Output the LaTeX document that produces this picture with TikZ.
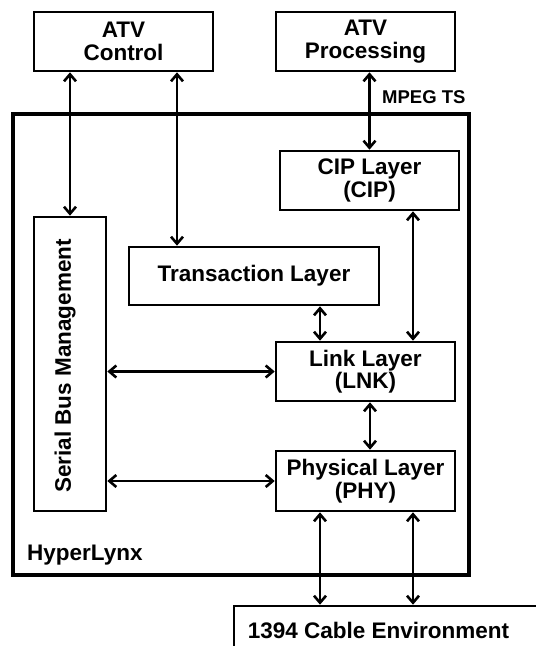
\documentclass[tikz,border=0pt]{standalone}
\usepackage{fontspec}
\setmainfont{Liberation Sans}
\usetikzlibrary{arrows.meta}
\begin{document}
\begin{tikzpicture}[x=1pt,y=-1pt,
  txt/.style={font=\fontsize{22.5}{22.5}\selectfont\bfseries, align=center, inner sep=0pt},
  box/.style={txt, draw, line width=2.6pt},
  arr/.style={line width=2.6pt, {Straight Barb[length=7pt,width=12pt]}-{Straight Barb[length=7pt,width=12pt]}}]
\useasboundingbox (0,0) rectangle (536,646);
\node[box, minimum width=456pt, minimum height=461pt, line width=4pt] (outer) at (241,344.5) {};
\node[box, minimum width=179pt, minimum height=59pt] (atvc) at (123.5,41.5) {ATV\\Control};
\node[box, minimum width=179pt, minimum height=59pt] (atvp) at (365.5,41.5) {ATV\\Processing};
\node[box, minimum width=179pt, minimum height=59pt] (cip) at (369.5,180.5) {CIP Layer\\(CIP)};
\node[box, minimum width=72pt, minimum height=294pt] (sbm) at (70,364) {};
\node[txt, rotate=90] (sbmtext) at (65,366) {Serial Bus Management};
\node[box, minimum width=250pt, minimum height=58pt] (tl) at (254,276) {Transaction Layer};
\node[box, minimum width=179pt, minimum height=59pt] (lnk) at (365.5,371.5) {Link Layer\\(LNK)};
\node[box, minimum width=179pt, minimum height=60pt] (phy) at (365.5,481) {Physical Layer\\(PHY)};
\node[box, minimum width=336pt, minimum height=84pt] (cable) at (402,648) {};
\node[txt, anchor=base] (cabletext) at (378.5,638) {1394 Cable Environment};
\node[txt, anchor=base west] (hl) at (27,560) {HyperLynx};
\node[txt, anchor=base west, font=\fontsize{18.5}{20}\selectfont\bfseries] (mpeg) at (382,103) {MPEG TS};
% connectors
\draw[arr] (atvc.south -| sbm.north) -- (sbm.north);
\draw[arr] ([xshift=53.5pt]atvc.south) -- ([xshift=53.5pt]atvc.south |- tl.north);
\draw[arr] (atvp.south -| cip.north) -- (cip.north);
\draw[arr] ([xshift=43.5pt]cip.south) -- ([xshift=43.5pt]cip.south |- lnk.north);
\draw[arr] ([xshift=66pt]tl.south) -- ([xshift=66pt]tl.south |- lnk.north);
\draw[arr] (sbm.east |- lnk.west) -- (lnk.west);
\draw[arr] (sbm.east |- phy.west) -- (phy.west);
\draw[arr] ([xshift=4.5pt]lnk.south) -- ([xshift=4.5pt]phy.north);
\draw[arr] ([xshift=-45.5pt]phy.south) -- ([xshift=-45.5pt]phy.south |- cable.north);
\draw[arr] ([xshift=47.5pt]phy.south) -- ([xshift=47.5pt]phy.south |- cable.north);
\end{tikzpicture}
\end{document}
